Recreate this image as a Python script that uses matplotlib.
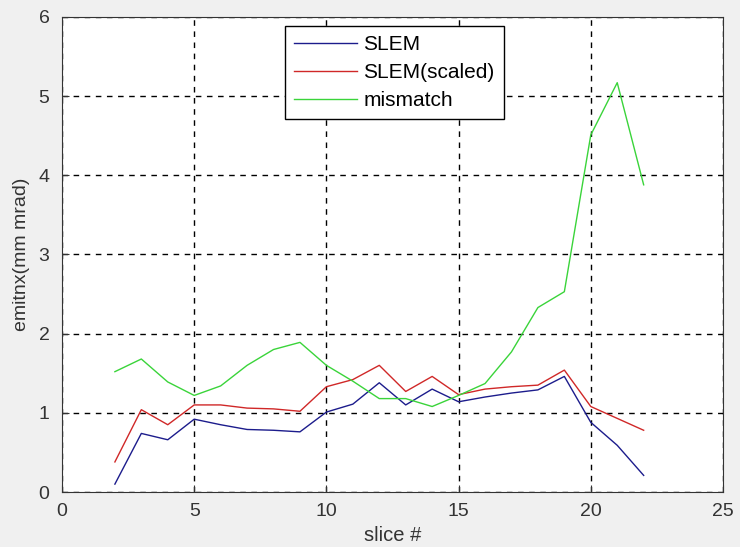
import matplotlib
matplotlib.use('Agg')
import matplotlib.pyplot as plt

plt.rcParams['font.family'] = ['Liberation Sans', 'DejaVu Sans']

slices = [2, 3, 4, 5, 6, 7, 8, 9, 10, 11, 12, 13, 14, 15, 16, 17, 18, 19, 20, 21, 22]
slem = [0.10, 0.74, 0.66, 0.92, 0.85, 0.79, 0.78, 0.76, 1.01, 1.11, 1.38, 1.10, 1.30, 1.14,
        1.20, 1.25, 1.29, 1.46, 0.88, 0.59, 0.21]
slem_scaled = [0.38, 1.04, 0.85, 1.10, 1.10, 1.06, 1.05, 1.02, 1.33, 1.42, 1.60, 1.27, 1.46, 1.23,
               1.30, 1.33, 1.35, 1.54, 1.08, 0.93, 0.78]
mismatch = [1.52, 1.68, 1.39, 1.22, 1.34, 1.60, 1.80, 1.89, 1.60, 1.40, 1.18, 1.18, 1.08, 1.22,
            1.37, 1.77, 2.33, 2.53, 4.51, 5.17, 3.88]

fig = plt.figure(figsize=(7.4, 5.47), dpi=100, facecolor='#f0f0f0')
ax = fig.add_axes([0.0838, 0.1005, 0.8932, 0.8685])

ax.plot(slices, slem, color='#1c1c8c', lw=1, label='SLEM')
ax.plot(slices, slem_scaled, color='#d02828', lw=1, label='SLEM(scaled)')
ax.plot(slices, mismatch, color='#3ad43a', lw=1, label='mismatch')

ax.set_xlim(0, 25)
ax.set_ylim(0, 6)
ax.set_xticks([0, 5, 10, 15, 20, 25])
ax.set_yticks([0, 1, 2, 3, 4, 5, 6])
ax.grid(True, color='black', linestyle=(0, (4, 4)), lw=1)
ax.tick_params(direction='in', labelsize=14, colors='#333333', length=5)
ax.tick_params(axis='x', pad=8)
ax.tick_params(axis='y', pad=9)
for s in ax.spines.values():
    s.set_color('#333333')

ax.set_xlabel('slice #', fontsize=14.5, color='#333333', labelpad=4)
ax.set_ylabel('emitnx(mm mrad)', fontsize=14, color='#333333', labelpad=6)

leg = ax.legend(loc='upper left', bbox_to_anchor=(0.337, 0.981), fontsize=15, fancybox=False,
                edgecolor='black', framealpha=1, handlelength=3.0, borderpad=0.45,
                labelspacing=0.42, borderaxespad=0, handletextpad=0.33)
leg.get_frame().set_linewidth(1)

fig.savefig('out.png', dpi=100, facecolor=fig.get_facecolor())
